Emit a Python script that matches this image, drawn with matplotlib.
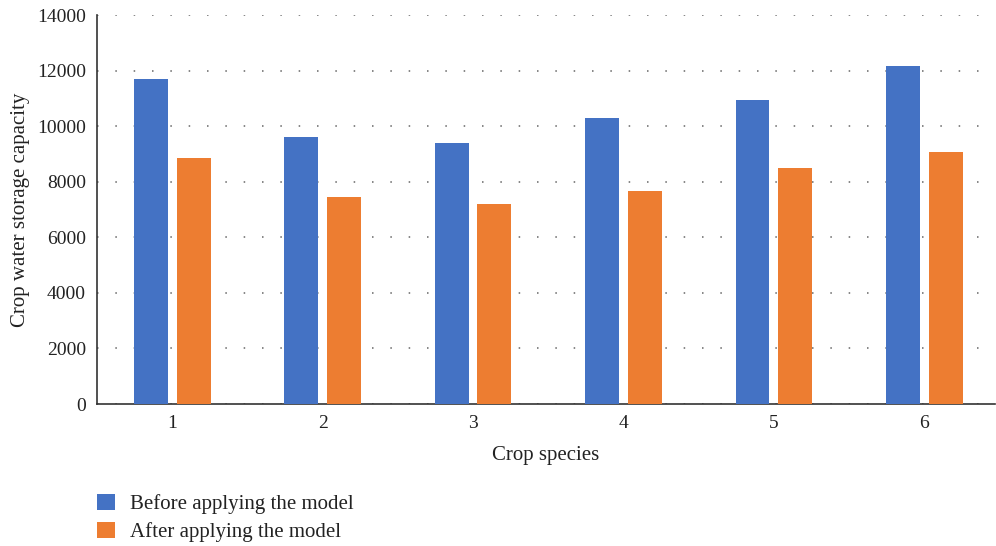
import numpy as np
import matplotlib
matplotlib.use("Agg")
import matplotlib.pyplot as plt

# values
species = ["1", "2", "3", "4", "5", "6"]
before = [11700, 9600, 9400, 10300, 10950, 12150]
after = [8850, 7450, 7200, 7650, 8500, 9070]
yticks = [0, 2000, 4000, 6000, 8000, 10000, 12000, 14000]

BLUE = "#4472C4"
ORANGE = "#ED7D31"

plt.rcParams["font.family"] = ["Liberation Serif", "DejaVu Serif"]

fig = plt.figure(figsize=(9.96, 5.46), dpi=100)
ax = fig.add_axes([0.0974, 0.26, 0.9016, 0.7125])

x = np.arange(1, len(species) + 1)
w = 0.225
ax.bar(x - 0.142, before, width=w, color=BLUE, label="Before applying the model", zorder=3)
ax.bar(x + 0.142, after, width=w, color=ORANGE, label="After applying the model", zorder=3)

ax.set_xlim(0.5, 6.47)
ax.set_ylim(0, 14000)
ax.set_xticks(x)
ax.set_xticklabels(species)
ax.set_yticks(yticks)
ax.tick_params(axis="both", length=0, labelsize=14, colors="#222222", pad=8)
ax.tick_params(axis="y", pad=8)

ax.yaxis.grid(True, linestyle=(0, (1, 11)), color="#666666", linewidth=1.1, zorder=0)
ax.set_axisbelow(True)
for s in ["top", "right"]:
    ax.spines[s].set_visible(False)
for s in ["left", "bottom"]:
    ax.spines[s].set_color("#333333")
    ax.spines[s].set_linewidth(1.2)

ax.set_xlabel("Crop species", fontsize=15, color="#222222", labelpad=10)
ax.set_ylabel("Crop water storage capacity", fontsize=15, color="#222222", labelpad=5)

fig.legend(loc="upper left", bbox_to_anchor=(0.079, 0.13), frameon=False,
           fontsize=15, handlelength=0.85, handleheight=0.85, handletextpad=0.7,
           labelspacing=0.35, labelcolor="#222222")

fig.savefig("out.png", dpi=100, facecolor="white")
